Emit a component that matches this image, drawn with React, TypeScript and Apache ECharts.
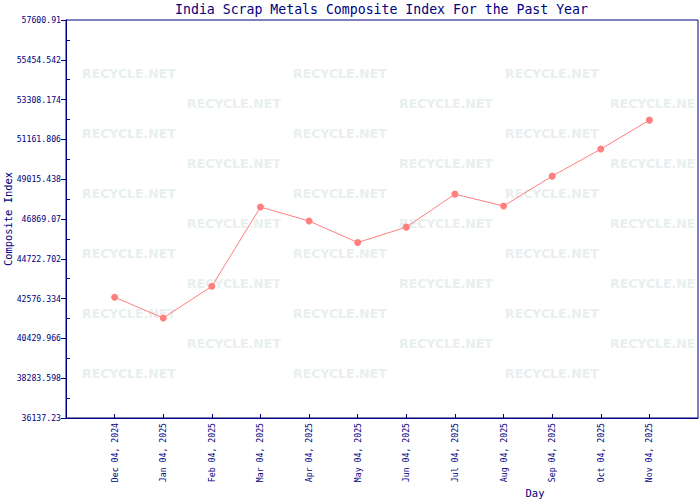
import React, { useEffect, useRef } from "react";
import * as echarts from "echarts";

const TITLE = "India Scrap Metals Composite Index For the Past Year";
const Y_NAME = "Composite Index";
const X_NAME = "Day";
const categories = [
  "Dec 04, 2024", "Jan 04, 2025", "Feb 04, 2025", "Mar 04, 2025",
  "Apr 04, 2025", "May 04, 2025", "Jun 04, 2025", "Jul 04, 2025",
  "Aug 04, 2025", "Sep 04, 2025", "Oct 04, 2025", "Nov 04, 2025",
];
const values = [
  42650, 41530, 43240, 47516, 46760, 45600, 46430, 48210, 47570, 49180, 50640, 52200,
];
const Y_MIN = 36137.23;
const Y_MAX = 57600.91;
const Y_STEP = 2146.368;

const NAVY = "#000080";
const MONO = "'DejaVu Sans Mono', monospace";

export default function App() {
  const ref = useRef<HTMLDivElement>(null);
  useEffect(() => {
    if (!ref.current) return;
    const chart = echarts.init(ref.current, null, { renderer: "svg" });
    const cats = ["", ...categories, ""];
    const data = [null, ...values, null];

    const watermarks: any[] = [];
    const rowsA = [73, 133, 193, 253, 313, 373];
    const rowsB = [103, 163, 223, 283, 343];
    const colsA = [82, 293, 505];
    const colsB = [187, 399, 610];
    const addWm = (x: number, y: number) =>
      watermarks.push({
        type: "text",
        x,
        y,
        z: -10,
        silent: true,
        style: {
          text: x > 600 ? "RECYCLE.NE" : "RECYCLE.NET",
          font: "bold 12.5px 'DejaVu Sans', sans-serif",
          fill: "#e8efee",
          textVerticalAlign: "middle",
          textAlign: "left",
        },
      });
    rowsA.forEach((y) => colsA.forEach((x) => addWm(x, y)));
    rowsB.forEach((y) => colsB.forEach((x) => addWm(x, y)));

    chart.setOption({
      animation: false,
      backgroundColor: "#ffffff",
      grid: {
        left: 66,
        right: 2,
        top: 20,
        bottom: 82,
        show: true,
        borderColor: NAVY,
        borderWidth: 1,
        backgroundColor: "transparent",
      },
      xAxis: {
        type: "category",
        data: cats,
        boundaryGap: false,
        axisLine: { lineStyle: { color: NAVY, width: 1 } },
        axisTick: {
          inside: true,
          length: 4,
          lineStyle: { color: NAVY },
          interval: (i: number) => i > 0 && i < cats.length - 1,
        },
        axisLabel: {
          rotate: 90,
          margin: 5,
          fontFamily: MONO,
          fontSize: 8.2,
          color: NAVY,
          interval: (i: number) => i > 0 && i < cats.length - 1,
        },
        splitLine: { show: false },
      },
      yAxis: {
        type: "value",
        min: Y_MIN,
        max: Y_MAX,
        interval: Y_STEP,
        axisLine: { show: true, lineStyle: { color: NAVY, width: 1 } },
        axisTick: { show: true, length: 5, lineStyle: { color: NAVY } },
        minorTick: { show: true, splitNumber: 2, length: -4, lineStyle: { color: NAVY } },
        axisLabel: {
          margin: 5,
          fontFamily: MONO,
          fontSize: 8.2,
          color: NAVY,
          formatter: (v: number) => String(Number(v.toFixed(3))),
        },
        splitLine: { show: false },
      },
      graphic: [
        ...watermarks,
        {
          type: "text",
          x: 381.5,
          y: 9,
          style: {
            text: TITLE,
            font: `13.2px ${MONO}`,
            fill: NAVY,
            textAlign: "center",
            textVerticalAlign: "middle",
          },
        },
        {
          type: "text",
          x: 8,
          y: 219,
          rotation: Math.PI / 2,
          style: {
            text: Y_NAME,
            font: `10.4px ${MONO}`,
            fill: NAVY,
            textAlign: "center",
            textVerticalAlign: "middle",
          },
        },
        {
          type: "text",
          x: 535,
          y: 493,
          style: {
            text: X_NAME,
            font: `10.5px ${MONO}`,
            fill: NAVY,
            textAlign: "center",
            textVerticalAlign: "middle",
          },
        },
      ],
      series: [
        {
          type: "line",
          data,
          connectNulls: false,
          symbol: "circle",
          symbolSize: 7,
          showSymbol: true,
          lineStyle: { color: "#ff7f7f", width: 1 },
          itemStyle: { color: "#ff7f7f" },
          z: 5,
        },
      ],
    });
    return () => chart.dispose();
  }, []);
  return <div ref={ref} style={{ width: 700, height: 500, position: "absolute", left: 0, top: 0 }} />;
}
